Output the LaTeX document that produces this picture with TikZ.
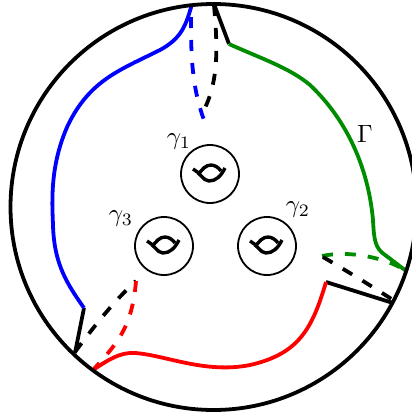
\documentclass[tikz,border=0pt]{standalone}
\definecolor{dgreen}{rgb}{0,0.55,0}
\tikzset{
 thick line/.style={line width=3.8pt,line cap=butt,line join=round},
 dash line/.style={thick line,dash pattern=on 11pt off 12pt},
 handle/.style={circle,draw,line width=1.8pt,minimum size=58pt,inner sep=0pt},
 lab/.style={inner sep=0pt,scale=2.5,transform shape},
 eye/.pic={
  \draw[line width=3.4pt,line cap=butt] (-17,-5) .. controls (-10,-2) and (-7,7) .. (-1,7) .. controls (6,7) and (11,2) .. (15,-6);
  \draw[line width=3.4pt,line cap=butt] (-12,1) .. controls (-8,-5) and (-4,-9) .. (1,-9) .. controls (5,-9) and (9,-6) .. (11,-3);
 }
}
\begin{document}
\begin{tikzpicture}[x=1pt,y=-1pt]
\useasboundingbox (0,0) rectangle (412,418);
\clip (0,0) rectangle (412,418);
\coordinate (c) at (213.5,207);
\node[handle] (h1) at (210,174) {};
\node[handle] (h2) at (267,246) {};
\node[handle] (h3) at (164,246) {};
\path (h1) pic {eye};
\path (h2) pic {eye};
\path (h3) pic {eye};
\node[lab] (g1) at (179,142) {$\gamma_1$};
\node[lab] (g2) at (298,210) {$\gamma_2$};
\node[lab] (g3) at (121,219) {$\gamma_3$};
\node[lab] (G) at (365,134) {$\Gamma$};
% dashed
\draw[dash line,blue] (191,17) .. controls (191,50) and (191,85) .. (204,120);
\draw[dash line,black] (214,5) .. controls (218,50) and (218,80) .. (205,108);
\draw[dash line,black] (75,352) .. controls (95,325) and (115,300) .. (136,281);
\draw[dash line,red] (136,281) .. controls (132,330) and (115,345) .. (94,369);
\draw[dash line,dgreen] (322,256) .. controls (350,250) and (385,258) .. (405,270);
\draw[dash line,black] (323,257) .. controls (345,270) and (370,285) .. (393,300);
% solid
\draw[thick line,black] (214,4) -- (229,44);
\draw[thick line,black] (75,353) -- (84,308);
\draw[thick line,black] (326,282) -- (393,303);
\draw[thick line,blue] (192,4) .. controls (186,25) and (182,38) .. (160,50) .. controls (120,70) and (90,80) .. (68,125) .. controls (50,165) and (52,200) .. (53,225) .. controls (54,265) and (68,285) .. (84,308);
\draw[thick line,dgreen] (229,44) .. controls (260,58) and (290,68) .. (310,85) .. controls (345,118) and (368,165) .. (373,220) .. controls (374,240) and (375,248) .. (385,255) .. controls (392,260) and (398,265) .. (405,270);
\draw[thick line,red] (93,370) .. controls (108,360) and (120,352) .. (135,353) .. controls (165,355) and (205,374) .. (250,365) .. controls (298,354) and (312,330) .. (326,282);
\draw[line width=3.8pt] (c) circle (203);
\end{tikzpicture}
\end{document}
